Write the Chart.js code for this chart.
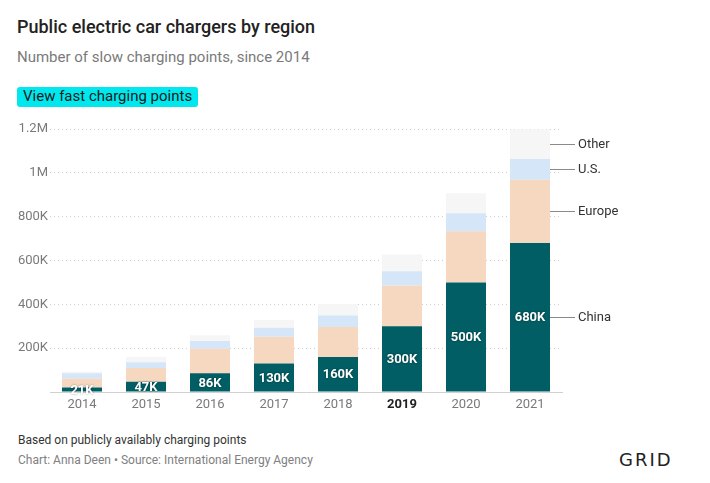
<!DOCTYPE html>
<html>
<head>
<meta charset="utf-8">
<script src="https://cdn.jsdelivr.net/npm/chart.js@4/dist/chart.umd.min.js"></script>
<style>
  body { margin:0; width:710px; height:483px; background:#fff; position:relative; overflow:hidden; font-family:Roboto, sans-serif; }
  .t { position:absolute; white-space:nowrap; line-height:1; }
  #title { left:17px; top:18px; font-size:18px; color:#222; font-weight:500; }
  #sub { left:17px; top:50px; font-size:15px; color:#7a7a7a; }
  #btn { position:absolute; left:17px; top:87px; width:181px; height:20px; background:#00e8ee; border-radius:3px; }
  #btnTxt { left:23px; top:89px; font-size:15px; color:#1a1a1a; }
  #note { left:18px; top:434px; font-size:12px; color:#333; }
  #src { left:18px; top:454px; font-size:12px; color:#808080; }
  #logo { left:619px; top:451px; font-size:18px; color:#222; letter-spacing:2px; font-family:'DejaVu Sans', sans-serif; }
  #wrap { position:absolute; left:0; top:110px; width:710px; height:305px; }
</style>
</head>
<body>
<div class="t" id="title">Public electric car chargers by region</div>
<div class="t" id="sub">Number of slow charging points, since 2014</div>
<div id="btn"></div>
<div class="t" id="btnTxt">View fast charging points</div>
<div id="wrap"><canvas id="chart" width="710" height="305"></canvas></div>
<div class="t" id="note">Based on publicly availably charging points</div>
<div class="t" id="src">Chart: Anna Deen • Source: International Energy Agency</div>
<div class="t" id="logo">GRID</div>

<script>
/* ── Dados (milhares de pontos de recarga lenta) ── */
const years   = ['2014', '2015', '2016', '2017', '2018', '2019', '2020', '2021'];
const china   = [21, 47, 86, 130, 160, 300, 500, 680];
const europe  = [41, 63, 111, 122, 137, 186, 233, 289];
const us      = [23, 26, 36, 41, 52, 65, 83, 94];
const other   = [7, 24, 26, 36, 52, 76, 91, 135];
const chinaLabels = ['21K', '47K', '86K', '130K', '160K', '300K', '500K', '680K'];
const seriesNames = ['China', 'Europe', 'U.S.', 'Other'];
const yTicks      = [0, 200, 400, 600, 800, 1000, 1200];
const yTickLabels = ['', '200K', '400K', '600K', '800K', '1M', '1.2M'];
const boldYear    = '2019';

/* ── Paleta ── */
const C = {
  china:  '#015e64',
  europe: '#f6d8c1',
  us:     '#d4e6f8',
  other:  '#f6f6f6',
  grid:   '#cfcfcf',
  axis:   '#d0d0d0',
  tick:   '#7a7a7a',
  text:   '#333',
};

const toK = arr => arr.map(v => v * 1000);

/* rótulos dentro das barras + legenda à direita */
const segLabels = {
  id: 'segLabels',
  afterDatasetsDraw(chart) {
    const ctx = chart.ctx;
    ctx.save();
    ctx.textAlign = 'center';
    ctx.textBaseline = 'middle';
    ctx.font = 'bold 13px Roboto';
    ctx.fillStyle = '#fff';
    ctx.shadowColor = 'rgba(0,0,0,0.45)';
    ctx.shadowBlur = 2;
    chart.getDatasetMeta(0).data.forEach((bar, i) => {
      ctx.fillText(chinaLabels[i], bar.x, (bar.y + bar.base) / 2 + 1);
    });
    ctx.restore();

    const last = years.length - 1;
    ctx.save();
    ctx.font = '13px Roboto';
    ctx.fillStyle = C.text;
    ctx.strokeStyle = '#8a8a8a';
    ctx.lineWidth = 1;
    ctx.textBaseline = 'middle';
    chart.data.datasets.forEach((ds, d) => {
      const bar = chart.getDatasetMeta(d).data[last];
      const y = Math.round((bar.y + bar.base) / 2) + 0.5;
      const x0 = bar.x + bar.width / 2;
      ctx.beginPath();
      ctx.moveTo(x0, y);
      ctx.lineTo(x0 + 25, y);
      ctx.stroke();
      ctx.fillText(seriesNames[d], x0 + 28, y);
    });
    ctx.restore();
  }
};

new Chart(document.getElementById('chart'), {
  type: 'bar',
  data: {
    labels: years,
    datasets: [
      { label: seriesNames[0], data: toK(china),  backgroundColor: C.china },
      { label: seriesNames[1], data: toK(europe), backgroundColor: C.europe },
      { label: seriesNames[2], data: toK(us),     backgroundColor: C.us },
      { label: seriesNames[3], data: toK(other),  backgroundColor: C.other },
    ]
  },
  options: {
    responsive: false,
    animation: false,
    barPercentage: 0.625,
    categoryPercentage: 1,
    layout: { padding: { top: 19, right: 148, bottom: 1, left: 0 } },
    plugins: { legend: { display: false }, tooltip: { enabled: false } },
    scales: {
      x: {
        stacked: true,
        afterFit: s => { s.height = 22; },
        grid: { display: false, drawTicks: false, tickLength: 0 },
        border: { color: C.axis, width: 1 },
        ticks: {
          padding: 5,
          color: c => years[c.index] === boldYear ? '#222' : C.tick,
          font: c => ({ family: 'Roboto', size: 13, weight: years[c.index] === boldYear ? 'bold' : 'normal' })
        }
      },
      y: {
        stacked: true,
        min: 0,
        max: 1200000,
        afterFit: s => { s.width = 50; },
        afterBuildTicks: s => { s.ticks = yTicks.map(v => ({ value: v * 1000 })); },
        grid: {
          color: c => c.tick && c.tick.value === 0 ? 'rgba(0,0,0,0)' : C.grid,
          drawTicks: false,
          tickLength: 0,
        },
        border: { display: false, dash: [1, 3] },
        ticks: {
          padding: 2,
          color: C.tick,
          font: { family: 'Roboto', size: 13 },
          callback: v => yTickLabels[yTicks.indexOf(v / 1000)]
        }
      }
    }
  },
  plugins: [segLabels]
});
</script>
</body>
</html>
